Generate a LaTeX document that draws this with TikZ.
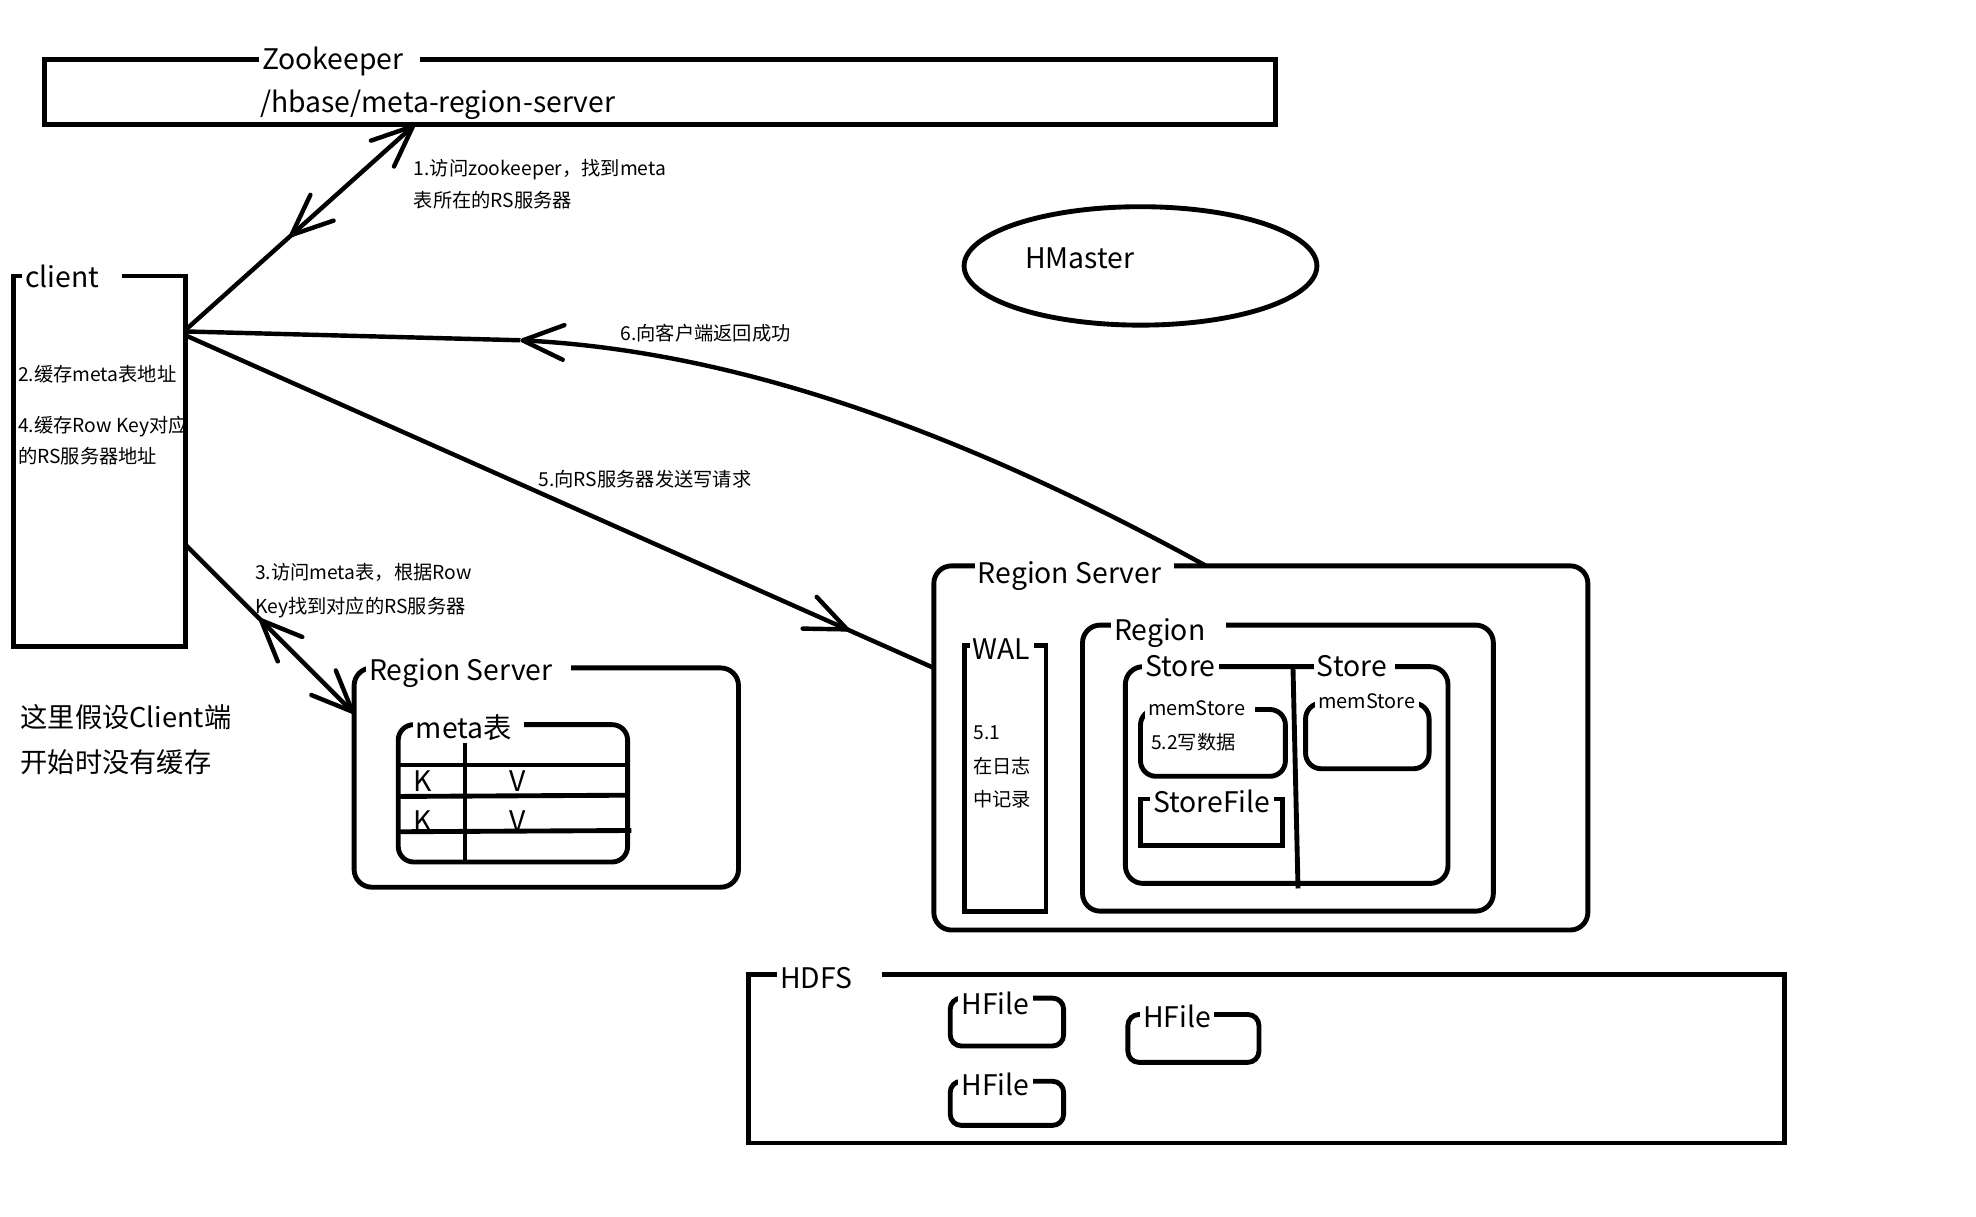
\documentclass[tikz,border=0pt]{standalone}
\usepackage{fontspec}
\setmainfont{Noto Sans CJK SC}
\usepackage{tikz}
\usetikzlibrary{arrows.meta,fit,shapes.geometric,decorations.markings}
\newcommand{\titlefont}{\fontsize{12.8}{15}\selectfont}
\newcommand{\notefont}{\fontsize{8.7}{11}\selectfont}
\newcommand{\memfont}{\fontsize{9}{11}\selectfont}
\newcommand{\leftfont}{\fontsize{12.3}{15}\selectfont}
\tikzset{
	box/.style={draw, line width=2.2pt, inner sep=0pt, outer sep=0pt},
	rbox/.style={box, rounded corners=#1},
	rbox/.default=8pt,
	title/.style={fill=white, inner xsep=1.5pt, inner ysep=1pt, anchor=base west, font=\titlefont},
	note/.style={inner sep=0pt, anchor=base west, font=\notefont},
	flow/.style={line width=2pt},
	midto/.style={postaction={decorate}, decoration={markings, mark=at position #1 with {\arrow{>}}}},
	midback/.style={postaction={decorate}, decoration={markings, mark=at position #1 with {\arrowreversed{>}}}}
}
\begin{document}
\begin{tikzpicture}[x=0.02cm, y=-0.02cm, >={Straight Barb[length=6.5mm,width=5.5mm,round]}]
		\useasboundingbox (0,0) rectangle (1568,965);
		
		\node[box, fit={(35,47) (1012,99)}] (zk) {};
		\node[title] (zkt) at (205,55) {Zookeeper\kern6pt};
		\node[note, font=\titlefont] (zkpath) at (206,89) {/hbase/meta-region-server};
		
		\node[box, fit={(11,219) (147,513)}] (client) {};
		\node[title] (clientt) at (17,228) {client\kern9pt};
		\node[note] (cache2) at (14,303) {2.缓存meta表地址};
		\node[note] (cache4a) at (14,343) {4.缓存Row Key对应};
		\node[note] (cache4b) at (14,368) {的RS服务器地址};
		\node[note, font=\leftfont] (assume1) at (16,577) {这里假设Client端};
		\node[note, font=\leftfont] (assume2) at (16,613) {开始时没有缓存};
		
		\node[draw, ellipse, line width=2.2pt, inner sep=0pt, minimum width=5.6cm, minimum height=1.88cm] (hmaster) at (905,211) {};
		\node[note, font=\titlefont] (hmastert) at (813,213) {HMaster};
		
		\node[rbox, fit={(281,530) (586,704)}] (rs1) {};
		\node[title] (rs1t) at (290,540) {Region Server\kern7pt};
		\node[rbox=7pt, fit={(316,575) (498,684)}] (meta) {};
		\draw[line width=2.2pt] (369,585) -- (meta.south -| 369,0);
		\draw[line width=2.2pt] (meta.west |- 0,607) -- (meta.east |- 0,607);
		\draw[line width=2.2pt] (meta.west |- 0,632) -- (meta.east |- 0,631);
		\draw[line width=2.2pt] (meta.west |- 0,660) -- (501,659);
		\node[title] (metat) at (327,586) {meta表\kern4pt};
		\node[note, font=\titlefont] (k1) at (328,628) {K};
		\node[note, font=\titlefont] (v1) at (404,628) {V};
		\node[note, font=\titlefont] (k2) at (328,660) {K};
		\node[note, font=\titlefont] (v2) at (404,660) {V};
		
		\node[rbox, fit={(741,449) (1260,738)}] (rs2) {};
		\node[title] (rs2t) at (773,463) {Region Server\kern4pt};
		\node[box, fit={(765,512) (830,723)}] (wal) {};
		\node[title] (walt) at (769,523) {WAL};
		\node[note] (wal1) at (772,587) {5.1};
		\node[note] (wal2) at (772,614) {在日志};
		\node[note] (wal3) at (772,640) {中记录};
		\node[rbox, fit={(859,496) (1185,723)}] (region) {};
		\node[title] (regiont) at (881,508) {Region\kern8pt};
		\node[rbox, fit={(893,529) (1149,701)}] (store) {};
		\draw[line width=2.2pt] (1026,529) -- (1030,705);
		\node[title] (store1t) at (906,537) {Store};
		\node[title] (store2t) at (1042,537) {Store\kern2pt};
		\node[rbox=7pt, fit={(905,563) (1020,616)}] (mem1) {};
		\node[title, font=\memfont] (mem1t) at (908,568) {memStore\kern3pt};
		\node[note] (write52) at (913,595) {5.2写数据};
		\node[box, fit={(905,634) (1018,671)}] (sfile) {};
		\node[title] (sfilet) at (912,645) {StoreFile};
		\node[rbox=7pt, fit={(1036,558) (1134,610)}] (mem2) {};
		\node[title, font=\memfont] (mem2t) at (1043,562) {memStore};
		
		\node[box, fit={(594,773) (1416,907)}] (hdfs) {};
		\node[title] (hdfst) at (616,784) {HDFS\kern12pt};
		\node[rbox=5pt, fit={(754,792) (844,830)}] (hf1) {};
		\node[title] (hf1t) at (760,805) {HFile};
		\node[rbox=5pt, fit={(895,805) (999,843)}] (hf2) {};
		\node[title] (hf2t) at (904,815) {HFile};
		\node[rbox=5pt, fit={(754,858) (844,893)}] (hf3) {};
		\node[title] (hf3t) at (760,869) {HFile};
		
		\draw[flow, ->, midback=0.456] (client.east |- 0,262) -- (zk.south -| 329,0);
		\node[note] (step1a) at (328,139) {1.访问zookeeper，找到meta};
		\node[note] (step1b) at (328,165) {表所在的RS服务器};
		
		\draw[flow, ->, midback=0.44] (client.east |- 0,432) -- (rs1.west |- 0,566);
		\node[note] (step3a) at (202,460) {3.访问meta表，根据Row};
		\node[note] (step3b) at (202,487) {Key找到对应的RS服务器};
		
		\draw[flow, midto=0.887] (client.east |- 0,266) -- (rs2.west |- 0,530);
		\node[note] (step5) at (427,386) {5.向RS服务器发送写请求};
		
		\draw[flow, ->] (rs2.north -| 957,0) .. controls (775,349) and (593,279) .. (413,270) coordinate (back6);
		\draw[flow] (back6) -- (client.east |- 0,263);
		\node[note] (step6) at (492,270) {6.向客户端返回成功};
		
		\end{tikzpicture}
\end{document}
